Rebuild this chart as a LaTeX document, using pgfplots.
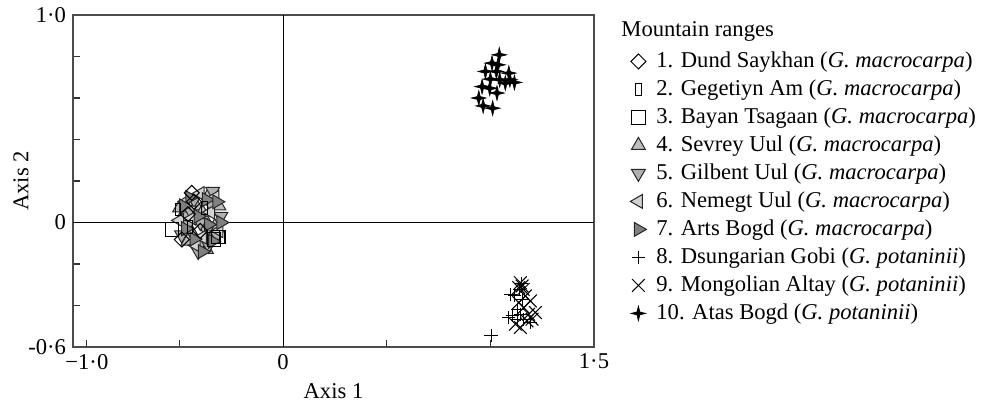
\documentclass[border=0pt]{standalone}
\usepackage{fontspec}
\setmainfont{Liberation Serif}
\usepackage{pgfplots}
\pgfplotsset{compat=1.18}
\newcommand\myfont{\fontsize{11.3pt}{13.5pt}\selectfont}
\pgfdeclareplotmark{fourstar}{%
  \pgfpathmoveto{\pgfqpoint{0pt}{\pgfplotmarksize}}%
  \pgfpathlineto{\pgfqpoint{0.2\pgfplotmarksize}{0.2\pgfplotmarksize}}%
  \pgfpathlineto{\pgfqpoint{\pgfplotmarksize}{0pt}}%
  \pgfpathlineto{\pgfqpoint{0.2\pgfplotmarksize}{-0.2\pgfplotmarksize}}%
  \pgfpathlineto{\pgfqpoint{0pt}{-\pgfplotmarksize}}%
  \pgfpathlineto{\pgfqpoint{-0.2\pgfplotmarksize}{-0.2\pgfplotmarksize}}%
  \pgfpathlineto{\pgfqpoint{-\pgfplotmarksize}{0pt}}%
  \pgfpathlineto{\pgfqpoint{-0.2\pgfplotmarksize}{0.2\pgfplotmarksize}}%
  \pgfpathclose\pgfusepathqfillstroke}
\definecolor{gfour}{HTML}{BDBDBD}
\definecolor{gfive}{HTML}{B0B0B0}
\definecolor{gsix}{HTML}{D2D2D2}
\definecolor{gseven}{HTML}{808080}
\pgfplotsset{
  s1/.style={only marks, mark=square, mark size=2.65pt, mark options={rotate=45, fill=white, draw=black, line width=0.5pt}},
  s2/.style={only marks, mark=square, mark size=3.2pt, mark options={xscale=0.45, fill=white, draw=black, line width=0.5pt}},
  s3/.style={only marks, mark=square, mark size=3.3pt, mark options={fill=white, draw=black, line width=0.5pt}},
  s4/.style={only marks, mark=triangle*, mark size=4pt, mark options={fill=gfour, draw=black!85, line width=0.5pt}},
  s5/.style={only marks, mark=triangle*, mark size=4pt, mark options={rotate=180, fill=gfive, draw=black!85, line width=0.5pt}},
  s6/.style={only marks, mark=triangle*, mark size=4pt, mark options={rotate=90, fill=gsix, draw=black!85, line width=0.5pt}},
  s7/.style={only marks, mark=triangle*, mark size=4pt, mark options={rotate=-90, fill=gseven, draw=black!85, line width=0.5pt}},
  s8/.style={only marks, mark=+, mark size=3.3pt, mark options={draw=black, line width=0.5pt}},
  s9/.style={only marks, mark=x, mark size=4.5pt, mark options={draw=black, line width=0.5pt}},
  s10/.style={only marks, mark=fourstar, mark size=3.7pt, mark options={fill=black, draw=black, line width=0.3pt}},
}
\begin{document}
\begin{tikzpicture}
\begin{axis}[name=ax, scale only axis, width=260.5pt, height=166pt,
  xmin=-1.014, xmax=1.5, ymin=-0.6, ymax=1.0,
  axis line style={draw=black!70, line width=0.8pt},
  xtick={-0.947,-0.5,0,0.5,1,1.5}, xticklabels={−1·0,,0,,,1·5},
  ytick={-0.6,-0.4,-0.2,0,0.2,0.4,0.6,0.8,1.0}, yticklabels={-0·6,,,0,,,,,1·0},
  tick align=inside, xtick pos=left, ytick pos=left,
  major tick length=3.5pt, tick style={draw=black!80, line width=0.6pt},
  tick label style={font=\myfont}, label style={font=\myfont},
  xlabel={Axis 1}, ylabel={Axis 2},
  ylabel style={at={(axis description cs:-0.1,0.5)}, anchor=center},
  clip=false,
  legend cell align=left,
  legend style={at={(1,1)}, anchor=north west, xshift=14pt, yshift=-16pt,
    draw=none, fill=none, font=\myfont, row sep=0pt, inner sep=0pt,
    nodes={inner xsep=1pt, inner ysep=1.5pt, text height=8.5pt, text depth=2.5pt}},
  legend image code/.code={\path[draw=none,fill=none] (0pt,0pt) (16pt,0pt);\draw[#1] plot coordinates {(8pt,0pt)};},
]
\addlegendimage{s1}\addlegendentry{1. Dund Saykhan (\textit{G. macrocarpa})}
\addlegendimage{s2}\addlegendentry{2. Gegetiyn Am (\textit{G. macrocarpa})}
\addlegendimage{s3}\addlegendentry{3. Bayan Tsagaan (\textit{G. macrocarpa})}
\addlegendimage{s4}\addlegendentry{4. Sevrey Uul (\textit{G. macrocarpa})}
\addlegendimage{s5}\addlegendentry{5. Gilbent Uul (\textit{G. macrocarpa})}
\addlegendimage{s6}\addlegendentry{6. Nemegt Uul (\textit{G. macrocarpa})}
\addlegendimage{s7}\addlegendentry{7. Arts Bogd (\textit{G. macrocarpa})}
\addlegendimage{s8}\addlegendentry{8. Dsungarian Gobi (\textit{G. potaninii})}
\addlegendimage{s9}\addlegendentry{9. Mongolian Altay (\textit{G. potaninii})}
\addlegendimage{s10}\addlegendentry{10. Atas Bogd (\textit{G. potaninii})}

\draw[black, line width=0.6pt] (axis cs:0,-0.6) -- (axis cs:0,1.0);
\draw[black, line width=0.6pt] (axis cs:-1.014,0) -- (axis cs:1.5,0);

% 4. Sevrey Uul
\addplot[s4, forget plot] coordinates {(-0.36,0.13)(-0.42,0.08)(-0.31,0.08)(-0.48,0.04)(-0.38,0.02)(-0.33,-0.02)(-0.44,-0.05)(-0.40,-0.10)(-0.35,-0.07)(-0.50,0.07)(-0.39,0.05)(-0.46,-0.09)(-0.37,-0.13)};
% 5. Gilbent Uul
\addplot[s5, forget plot] coordinates {(-0.34,0.15)(-0.43,0.11)(-0.30,0.03)(-0.46,-0.01)(-0.37,-0.04)(-0.41,-0.14)(-0.36,-0.11)(-0.49,-0.06)(-0.32,-0.06)(-0.45,0.06)(-0.40,0.00)(-0.35,0.09)};
% 6. Nemegt Uul
\addplot[s6, forget plot] coordinates {(-0.40,0.14)(-0.44,0.02)(-0.35,0.05)(-0.39,-0.07)(-0.50,0.01)(-0.31,-0.04)(-0.42,-0.11)(-0.47,0.10)(-0.33,0.12)};
% 7. Arts Bogd
\addplot[s7, forget plot] coordinates {(-0.37,0.11)(-0.45,0.12)(-0.32,0.10)(-0.41,0.03)(-0.36,-0.01)(-0.47,-0.03)(-0.39,-0.14)(-0.30,0.00)(-0.43,-0.08)(-0.34,-0.09)(-0.48,0.08)};
% 1. Dund Saykhan
\addplot[s1, forget plot] coordinates {(-0.441,0.143)(-0.489,-0.082)(-0.46,0.04)(-0.40,-0.04)(-0.43,0.10)};
% 2. Gegetiyn Am
\addplot[s2, forget plot] coordinates {(-0.507,0.063)(-0.291,-0.069)(-0.45,-0.02)(-0.38,0.07)};
% 3. Bayan Tsagaan
\addplot[s3, forget plot] coordinates {(-0.538,-0.034)(-0.333,-0.082)(-0.315,-0.070)};
% 8. Dsungarian Gobi
\addplot[s8, forget plot] coordinates {(1.148,-0.293)(1.142,-0.322)(1.097,-0.346)(1.116,-0.351)(1.153,-0.370)(1.129,-0.418)(1.105,-0.450)(1.088,-0.458)(1.145,-0.442)(1.132,-0.466)(1.161,-0.466)(1.193,-0.482)(1.003,-0.543)};
% 9. Mongolian Altay
\addplot[s9, forget plot] coordinates {(1.145,-0.290)(1.153,-0.306)(1.137,-0.314)(1.158,-0.322)(1.169,-0.354)(1.193,-0.378)(1.137,-0.386)(1.161,-0.410)(1.217,-0.434)(1.185,-0.442)(1.201,-0.466)(1.177,-0.474)(1.121,-0.490)(1.145,-0.506)};
% 10. Atas Bogd
\addplot[s10, forget plot] coordinates {(1.043,0.808)(1.008,0.768)(1.037,0.760)(0.976,0.728)(1.029,0.728)(1.089,0.720)(1.000,0.691)(1.045,0.688)(1.072,0.672)(1.116,0.675)(0.960,0.655)(0.997,0.647)(1.032,0.624)(0.944,0.600)(0.965,0.562)(1.011,0.551)(1.094,0.688)};
\end{axis}
\node[anchor=west, font=\myfont, inner sep=0pt] at ([xshift=13.5pt,yshift=-8pt]ax.north east) {Mountain ranges};
\pgfresetboundingbox
\path[use as bounding box] ([xshift=-36.5pt,yshift=-30.5pt]ax.south west) rectangle ([xshift=194pt,yshift=7.5pt]ax.north east);
\end{tikzpicture}
\end{document}
